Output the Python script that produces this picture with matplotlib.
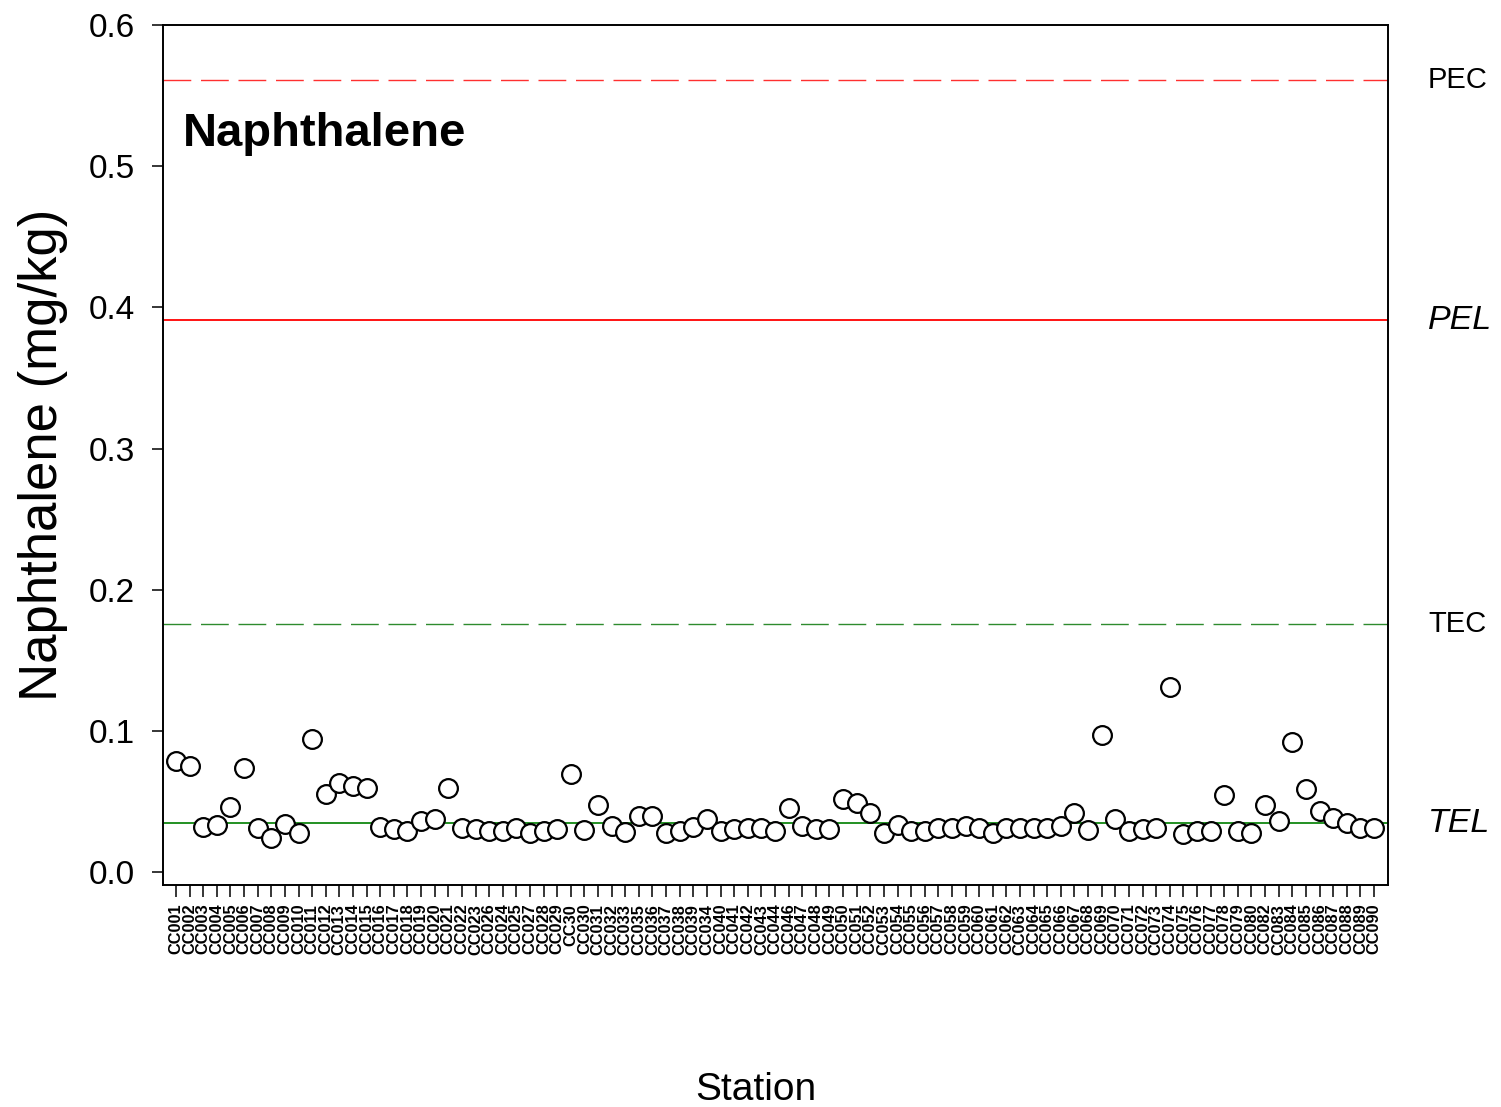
import matplotlib
matplotlib.use("Agg")
import matplotlib.pyplot as plt
import numpy as np

plt.rcParams['font.family'] = ['Liberation Sans', 'DejaVu Sans']

# Sampling stations in plotting order
stations = [
    "CC001", "CC002", "CC003", "CC004", "CC005", "CC006", "CC007", "CC008", "CC009", "CC010",
    "CC011", "CC012", "CC013", "CC014", "CC015", "CC016", "CC017", "CC018", "CC019", "CC020",
    "CC021", "CC022", "CC023", "CC026", "CC024", "CC025", "CC027", "CC028", "CC029", "CC30",
    "CC030", "CC031", "CC032", "CC033", "CC035", "CC036", "CC037", "CC038", "CC039", "CC034",
    "CC040", "CC041", "CC042", "CC043", "CC044", "CC046", "CC047", "CC048", "CC049", "CC050",
    "CC051", "CC052", "CC053", "CC054", "CC055", "CC056", "CC057", "CC058", "CC059", "CC060",
    "CC061", "CC062", "CC063", "CC064", "CC065", "CC066", "CC067", "CC068", "CC069", "CC070",
    "CC071", "CC072", "CC073", "CC074", "CC075", "CC076", "CC077", "CC078", "CC079", "CC080",
    "CC082", "CC083", "CC084", "CC085", "CC086", "CC087", "CC088", "CC089", "CC090",
]

# Naphthalene concentration (mg/kg) per station
naphthalene = [
    0.0786, 0.0750, 0.0320, 0.0333, 0.0463, 0.0734, 0.0314, 0.0239, 0.0338, 0.0274,
    0.0942, 0.0550, 0.0633, 0.0609, 0.0593, 0.0321, 0.0302, 0.0288, 0.0361, 0.0373,
    0.0593, 0.0314, 0.0302, 0.0290, 0.0290, 0.0314, 0.0279, 0.0290, 0.0302, 0.0694,
    0.0298, 0.0475, 0.0326, 0.0281, 0.0397, 0.0397, 0.0274, 0.0293, 0.0321, 0.0373,
    0.0293, 0.0302, 0.0314, 0.0310, 0.0293, 0.0456, 0.0326, 0.0305, 0.0305, 0.0515,
    0.0487, 0.0416, 0.0274, 0.0333, 0.0293, 0.0293, 0.0314, 0.0314, 0.0326, 0.0314,
    0.0279, 0.0314, 0.0314, 0.0314, 0.0314, 0.0328, 0.0416, 0.0298, 0.0970, 0.0373,
    0.0293, 0.0302, 0.0314, 0.1313, 0.0267, 0.0290, 0.0290, 0.0545, 0.0293, 0.0279,
    0.0475, 0.0364, 0.0923, 0.0586, 0.0432, 0.0385, 0.0345, 0.0314, 0.0314,
]

# Sediment quality guidelines (mg/kg)
guideline_names = ["PEC", "PEL", "TEC", "TEL"]
guideline_values = [0.561, 0.391, 0.176, 0.0346]

fig = plt.figure(figsize=(15.01, 11.07), dpi=100)
ax = fig.add_axes([163 / 1501, 1 - 885 / 1107, (1388 - 163) / 1501, (885 - 25) / 1107])

x = np.arange(1, len(stations) + 1)

# Guideline lines
pec, pel, tec, tel = guideline_values
ax.axhline(pec, color="#ff3030", lw=1.0, dashes=(20, 7), zorder=1)
ax.axhline(pel, color="#ff0000", lw=1.3, zorder=1)
ax.axhline(tec, color="#2e8b2e", lw=1.0, dashes=(20, 7), zorder=1)
ax.axhline(tel, color="#118811", lw=1.3, zorder=1)

# Station values
ax.plot(x, naphthalene, linestyle="none", marker="o", ms=13.5, mfc="white",
        mec="black", mew=1.6, zorder=3)

ax.set_xlim(1 - 13 / 13.61, len(stations) + 14 / 13.61)
ax.set_ylim(-13 / 1411.7, 0.6)

ax.set_yticks([0.0, 0.1, 0.2, 0.3, 0.4, 0.5, 0.6])
ax.set_yticklabels(["0.0", "0.1", "0.2", "0.3", "0.4", "0.5", "0.6"])
ax.set_xticks(x)
ax.set_xticklabels(stations, rotation=90, fontsize=11.8, fontweight="bold",
                   va="top", ha="center")

ax.tick_params(axis="y", direction="out", length=8, width=1.1, labelsize=24, pad=12)
ax.tick_params(axis="x", direction="out", length=8.5, width=1.1, pad=5)
for s in ax.spines.values():
    s.set_linewidth(1.4)

# Guideline labels on the right
label_styles = {"PEC": ("normal", 21), "PEL": ("italic", 24.5),
                "TEC": ("normal", 21), "TEL": ("italic", 24.5)}
tr = ax.get_yaxis_transform()
for name, val in zip(guideline_names, guideline_values):
    style, size = label_styles[name]
    ax.text(1.0327, val, name, transform=tr, ha="left", va="center",
            fontsize=size, style=style, clip_on=False)

# Compound title inside the plot
ax.text(20 / 1225, (885 - 146) / 860, "Naphthalene", transform=ax.transAxes,
        ha="left", va="baseline", fontsize=34, fontweight="bold")

fig.text(43 / 1501, 1 - 455 / 1107, "Naphthalene (mg/kg)", rotation=90,
         ha="center", va="center", fontsize=38)
fig.text(756 / 1501, 1 - 1100 / 1107, "Station", ha="center", va="baseline",
         fontsize=28)

fig.savefig("out.png", dpi=100)
